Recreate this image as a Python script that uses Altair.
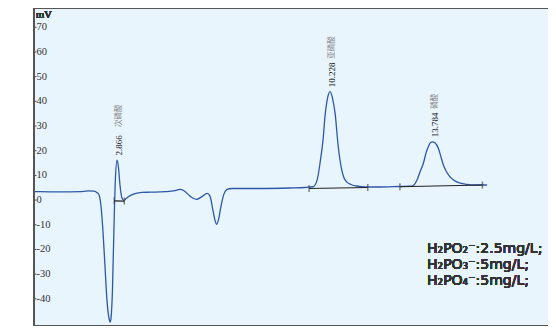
import altair as alt
import pandas as pd

# Chromatogram trace (time in min, signal in mV)
time_min = [0.00, 0.21, 0.90, 1.59, 1.87, 2.07, 2.18, 2.25, 2.31, 2.38, 2.45, 2.52, 2.59, 2.63,
            2.66, 2.71, 2.76, 2.81, 2.87, 2.92, 2.97, 3.04, 3.11, 3.18, 3.32, 3.49, 3.73, 4.01,
            4.53, 4.87, 5.04, 5.18, 5.39, 5.61, 5.80, 5.98, 6.08, 6.18, 6.25, 6.31, 6.37, 6.46,
            6.56, 6.67, 6.84, 7.81, 8.84, 9.36, 9.64, 9.78, 9.88, 9.99, 10.05, 10.14, 10.23,
            10.31, 10.40, 10.51, 10.63, 10.71, 10.80, 10.95, 11.15, 11.43, 11.95, 12.64, 12.99,
            13.10, 13.23, 13.33, 13.45, 13.54, 13.62, 13.70, 13.77, 13.85, 13.97, 14.06, 14.14,
            14.25, 14.37, 14.60, 14.95, 15.27, 15.65]
signal_mv = [3.4, 3.4, 3.3, 3.4, 3.7, 3.6, 3.0, 2.0, -2.0, -12.2, -26.3, -40.5, -47.8, -49.4,
             -47.8, -36.5, -12.2, 8.1, 16.2, 13.0, 6.1, 0.8, -0.2, 0.6, 1.8, 2.6, 3.1, 3.2,
             3.4, 3.8, 4.3, 3.8, 1.6, 0.3, 1.4, 2.7, 1.6, -4.1, -8.1, -9.8, -8.1, -2.4,
             2.4, 4.3, 4.7, 4.7, 4.9, 5.1, 5.4, 8.1, 15.0, 25.1, 33.7, 41.3, 43.9,
             41.3, 35.2, 21.6, 12.2, 8.9, 7.4, 6.3, 5.7, 5.3, 5.3, 5.5, 5.6,
             5.9, 8.1, 11.3, 14.9, 19.0, 21.6, 23.3, 23.6, 23.2, 20.9, 17.4, 14.2,
             11.5, 9.4, 7.4, 6.4, 6.1, 6.1]

# Peaks
peak_time = [2.866, 10.228, 13.784]
peak_height = [16.2, 43.9, 23.6]
peak_number = ["2.866", "10.228", "13.784"]
peak_name = ["次磷酸", "亚磷酸", "磷酸"]

# Integration baselines
base_start_t = [2.77, 9.50, 12.64]
base_start_v = [-0.3, 4.7, 5.4]
base_end_t = [3.12, 11.53, 15.49]
base_end_v = [-0.4, 5.1, 6.1]

y_ticks = [-40, -30, -20, -10, 0, 10, 20, 30, 40, 50, 60, 70]
legend_lines = ["H₂PO₂⁻:2.5mg/L;", "H₂PO₃⁻:5mg/L;", "H₂PO₄⁻:5mg/L;"]

W, H = 514, 318
xscale = alt.Scale(domain=[0, 17.755], nice=False, zero=False)
yscale = alt.Scale(domain=[-51, 77.8], nice=False, zero=False)

trace_df = pd.DataFrame({"t": time_min, "v": signal_mv})
peak_df = pd.DataFrame({"t": peak_time, "v": peak_height, "num": peak_number, "name": peak_name})
base_df = pd.DataFrame({"t": base_start_t, "v": base_start_v, "t2": base_end_t, "v2": base_end_v})
ends_df = pd.DataFrame({"t": base_start_t + base_end_t, "v": base_start_v + base_end_v})
tick_df = pd.DataFrame({"v": y_ticks, "lab": [str(v) for v in y_ticks]})

X = lambda f: alt.X(f, type="quantitative", scale=xscale, axis=None)
Y = lambda f: alt.Y(f, type="quantitative", scale=yscale, axis=None)

trace = alt.Chart(trace_df).mark_line(color="#2d58a8", strokeWidth=1.3, interpolate="monotone").encode(
    x=X("t"), y=Y("v"), order="t:Q")

baseline = alt.Chart(base_df).mark_rule(color="#222", strokeWidth=1.2).encode(
    x=X("t"), y=Y("v"), x2="t2", y2="v2")

ends = alt.Chart(ends_df).mark_tick(color="#444", orient="vertical", size=7, thickness=1.4).encode(
    x=X("t"), y=Y("v"))

num_lab = alt.Chart(peak_df).mark_text(angle=270, align="left", baseline="middle", dx=4.5, dy=2,
                                       font="Liberation Serif", fontSize=9, color="#111").encode(
    x=X("t"), y=Y("v"), text="num")

name_lab = alt.Chart(peak_df).mark_text(angle=270, align="left", baseline="middle", dx=33, dy=2,
                                        font="Noto Sans CJK SC", fontSize=7.5, color="#888").encode(
    x=X("t"), y=Y("v"), text="name")

ticks = alt.Chart(tick_df).mark_rule(color="#444", strokeWidth=1).encode(
    x=alt.value(0), x2=alt.value(2.5), y=Y("v"))

tick_lab = alt.Chart(tick_df).mark_text(align="left", baseline="middle", font="Liberation Serif",
                                        fontSize=10.5, color="#333").encode(
    x=alt.value(2.5), y=Y("v"), text="lab")

unit = alt.Chart(tick_df).mark_text(align="left", baseline="middle", font="Liberation Serif",
                                    fontSize=10.5, color="#333").encode(
    x=alt.value(2), y=alt.value(6.5), text=alt.value("mV"))

legend = alt.Chart(tick_df).mark_text(align="left", baseline="alphabetic", font="DejaVu Sans",
                                      fontSize=14, fontWeight="normal", color="#333",
                                      lineHeight=16).encode(
    x=alt.value(393), y=alt.value(244.5), text=alt.value(legend_lines))

border_left = alt.Chart(tick_df).mark_rule(color="#555", strokeWidth=2).encode(
    x=alt.value(0), y=alt.value(0), y2=alt.value(H))
border_top = alt.Chart(tick_df).mark_rule(color="#555", strokeWidth=2).encode(
    x=alt.value(0), x2=alt.value(W), y=alt.value(0))
border_bottom = alt.Chart(tick_df).mark_rule(color="#555", strokeWidth=2).encode(
    x=alt.value(0), x2=alt.value(W), y=alt.value(H))

chart = alt.layer(trace, baseline, ends, num_lab, name_lab, ticks, tick_lab, unit, legend,
                  border_left, border_top, border_bottom).properties(
    width=W, height=H,
    autosize=alt.AutoSizeParams(type="none"),
    padding={"left": 26, "top": 0, "right": 0, "bottom": 0},
    background="white",
).configure_view(stroke=None, fill="#e9f5fd")

chart.save("out.html", embed_options={"renderer": "svg", "actions": False})
